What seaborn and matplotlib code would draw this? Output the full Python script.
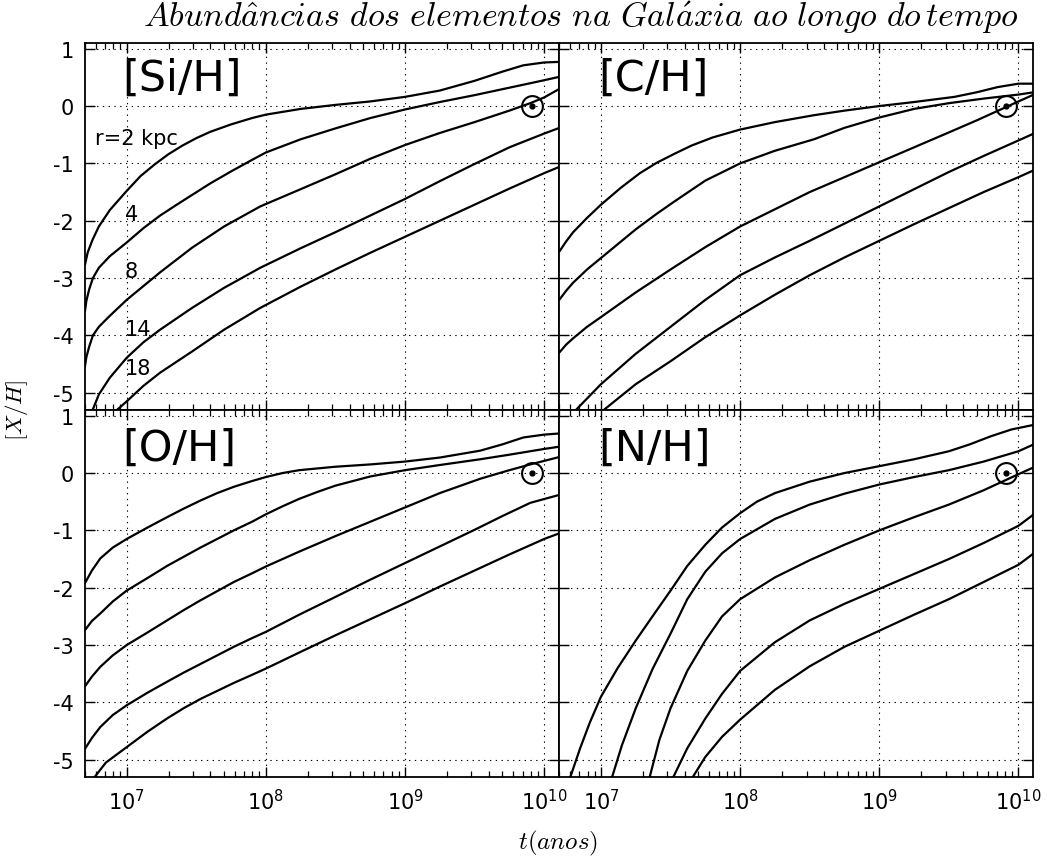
import numpy as np
import matplotlib
matplotlib.use("Agg")
import matplotlib.pyplot as plt
import seaborn as sns

# ---------------- data (log10 t [anos], [X/H]) ----------------
RADII = ["r=2 kpc", "4", "8", "14", "18"]
SUN_T = 8.2e9
SUN_XH = 0.0

# [Si/H]
si_r2_t = [6.70, 6.72, 6.755, 6.80, 6.88, 7.0, 7.1, 7.2, 7.3, 7.4, 7.5, 7.6, 7.75, 7.9, 8.0, 8.25, 8.5, 8.75, 9.0, 9.25, 9.5, 9.7, 9.85, 10.0, 10.11]
si_r2 = [-2.77, -2.55, -2.33, -2.1, -1.81, -1.48, -1.22, -1.02, -0.84, -0.69, -0.56, -0.45, -0.32, -0.21, -0.15, -0.05, 0.02, 0.08, 0.16, 0.27, 0.44, 0.6, 0.71, 0.76, 0.77]
si_r4_t = [6.70, 6.71, 6.73, 6.757, 6.8, 6.878, 7.0, 7.12, 7.24, 7.36, 7.47, 7.6, 7.75, 7.9, 8.0, 8.25, 8.5, 8.75, 9.0, 9.25, 9.5, 9.75, 10.0, 10.11]
si_r4 = [-3.58, -3.4, -3.2, -3.0, -2.82, -2.62, -2.38, -2.13, -1.91, -1.72, -1.55, -1.35, -1.14, -0.94, -0.81, -0.58, -0.39, -0.21, -0.06, 0.07, 0.19, 0.32, 0.45, 0.51]
si_r8_t = [6.70, 6.71, 6.73, 6.757, 6.8, 6.878, 7.0, 7.24, 7.47, 7.7, 7.96, 8.25, 8.5, 8.75, 9.0, 9.25, 9.5, 9.75, 9.9, 10.0, 10.11]
si_r8 = [-4.54, -4.38, -4.2, -4.0, -3.85, -3.66, -3.38, -2.9, -2.47, -2.1, -1.75, -1.45, -1.19, -0.92, -0.68, -0.47, -0.28, -0.08, 0.05, 0.15, 0.3]
si_r14_t = [6.755, 6.8, 6.878, 7.0, 7.12, 7.24, 7.47, 7.7, 7.96, 8.25, 8.5, 8.75, 9.0, 9.25, 9.5, 9.75, 10.0, 10.11]
si_r14 = [-5.3, -5.03, -4.74, -4.39, -4.12, -3.9, -3.52, -3.17, -2.82, -2.48, -2.2, -1.91, -1.62, -1.31, -1.01, -0.72, -0.48, -0.38]
si_r18_t = [6.93, 7.0, 7.12, 7.24, 7.47, 7.7, 7.96, 8.25, 8.5, 8.75, 9.0, 9.25, 9.5, 9.75, 10.0, 10.11]
si_r18 = [-5.3, -5.15, -4.88, -4.65, -4.28, -3.9, -3.52, -3.15, -2.85, -2.56, -2.28, -2.0, -1.72, -1.44, -1.17, -1.06]

# [C/H]
c_r2_t = [6.70, 6.75, 6.8, 6.9, 7.0, 7.14, 7.28, 7.4, 7.53, 7.65, 7.8, 8.0, 8.25, 8.53, 8.75, 9.0, 9.25, 9.54, 9.7, 9.85, 10.0, 10.11]
c_r2 = [-2.54, -2.36, -2.2, -1.95, -1.72, -1.43, -1.17, -0.99, -0.83, -0.69, -0.55, -0.41, -0.28, -0.16, -0.08, 0.0, 0.07, 0.16, 0.24, 0.33, 0.39, 0.39]
c_r4_t = [6.70, 6.75, 6.8, 6.9, 7.0, 7.25, 7.4, 7.53, 7.75, 8.0, 8.25, 8.53, 8.75, 9.0, 9.25, 9.5, 9.75, 10.0, 10.11]
c_r4 = [-3.38, -3.22, -3.08, -2.85, -2.65, -2.15, -1.88, -1.66, -1.3, -1.0, -0.78, -0.58, -0.38, -0.2, -0.05, 0.05, 0.13, 0.2, 0.24]
c_r8_t = [6.70, 6.75, 6.8, 6.9, 7.0, 7.25, 7.5, 7.75, 8.0, 8.25, 8.5, 8.75, 9.0, 9.25, 9.5, 9.7, 9.9, 10.0, 10.11]
c_r8 = [-4.3, -4.16, -4.05, -3.85, -3.68, -3.25, -2.85, -2.46, -2.1, -1.8, -1.5, -1.24, -0.98, -0.72, -0.46, -0.25, -0.03, 0.08, 0.2]
c_r14_t = [6.82, 6.9, 7.0, 7.25, 7.5, 7.75, 8.0, 8.25, 8.5, 8.75, 9.0, 9.25, 9.5, 9.75, 10.0, 10.11]
c_r14 = [-5.3, -5.1, -4.85, -4.32, -3.85, -3.38, -2.95, -2.64, -2.35, -2.05, -1.75, -1.45, -1.15, -0.87, -0.6, -0.48]
c_r18_t = [7.02, 7.25, 7.5, 7.75, 8.0, 8.25, 8.5, 8.75, 9.0, 9.25, 9.5, 9.75, 10.0, 10.11]
c_r18 = [-5.3, -4.85, -4.45, -4.03, -3.65, -3.29, -2.95, -2.64, -2.35, -2.06, -1.78, -1.5, -1.24, -1.12]

# [O/H]
o_r2_t = [6.70, 6.75, 6.81, 6.9, 7.0, 7.15, 7.29, 7.41, 7.53, 7.65, 7.77, 7.9, 8.0, 8.12, 8.24, 8.5, 8.75, 9.0, 9.25, 9.54, 9.7, 9.85, 10.0, 10.11]
o_r2 = [-1.92, -1.7, -1.49, -1.3, -1.15, -0.95, -0.77, -0.62, -0.48, -0.35, -0.24, -0.14, -0.07, 0.0, 0.05, 0.11, 0.15, 0.2, 0.27, 0.39, 0.5, 0.62, 0.67, 0.69]
o_r4_t = [6.70, 6.75, 6.81, 6.9, 7.0, 7.15, 7.29, 7.41, 7.53, 7.65, 7.77, 7.9, 8.0, 8.12, 8.24, 8.37, 8.5, 8.75, 9.0, 9.25, 9.54, 9.75, 10.0, 10.11]
o_r4 = [-2.74, -2.58, -2.45, -2.24, -2.05, -1.83, -1.62, -1.46, -1.3, -1.15, -1.0, -0.85, -0.72, -0.58, -0.45, -0.33, -0.22, -0.06, 0.05, 0.14, 0.24, 0.32, 0.42, 0.46]
o_r8_t = [6.70, 6.75, 6.81, 6.9, 7.0, 7.15, 7.29, 7.41, 7.53, 7.65, 7.77, 7.9, 8.0, 8.12, 8.24, 8.5, 8.75, 9.0, 9.25, 9.54, 9.75, 9.9, 10.11]
o_r8 = [-3.72, -3.55, -3.38, -3.18, -3.0, -2.78, -2.57, -2.39, -2.22, -2.06, -1.9, -1.75, -1.63, -1.5, -1.37, -1.1, -0.85, -0.6, -0.35, -0.1, 0.05, 0.15, 0.28]
o_r14_t = [6.70, 6.75, 6.81, 6.9, 7.0, 7.15, 7.29, 7.41, 7.53, 7.65, 7.77, 7.9, 8.0, 8.12, 8.24, 8.5, 8.75, 9.0, 9.25, 9.5, 9.7, 9.9, 10.11]
o_r14 = [-4.81, -4.62, -4.43, -4.22, -4.05, -3.83, -3.64, -3.48, -3.33, -3.18, -3.03, -2.88, -2.77, -2.62, -2.47, -2.16, -1.86, -1.57, -1.28, -0.99, -0.75, -0.52, -0.38]
o_r18_t = [6.77, 6.85, 7.0, 7.15, 7.29, 7.41, 7.53, 7.65, 7.77, 7.9, 8.0, 8.12, 8.24, 8.5, 8.75, 9.0, 9.25, 9.5, 9.75, 10.0, 10.11]
o_r18 = [-5.3, -5.05, -4.78, -4.51, -4.28, -4.1, -3.94, -3.8, -3.66, -3.52, -3.41, -3.27, -3.13, -2.83, -2.55, -2.27, -1.98, -1.7, -1.42, -1.15, -1.05]

# [N/H]
n_r2_t = [6.78, 6.85, 6.92, 7.0, 7.12, 7.25, 7.37, 7.5, 7.62, 7.75, 7.87, 8.0, 8.12, 8.25, 8.5, 8.75, 9.0, 9.25, 9.5, 9.65, 9.8, 9.95, 10.11]
n_r2 = [-5.3, -4.8, -4.35, -3.9, -3.4, -2.92, -2.5, -2.05, -1.62, -1.25, -0.95, -0.7, -0.5, -0.35, -0.15, 0.0, 0.12, 0.24, 0.38, 0.5, 0.64, 0.76, 0.84]
n_r4_t = [7.08, 7.15, 7.25, 7.37, 7.5, 7.62, 7.75, 7.87, 8.0, 8.25, 8.5, 8.75, 9.0, 9.25, 9.5, 9.75, 10.0, 10.11]
n_r4 = [-5.3, -4.75, -4.1, -3.42, -2.8, -2.2, -1.72, -1.4, -1.15, -0.8, -0.55, -0.36, -0.2, -0.07, 0.05, 0.2, 0.38, 0.5]
n_r8_t = [7.35, 7.42, 7.5, 7.62, 7.75, 7.87, 8.0, 8.25, 8.5, 8.75, 9.0, 9.25, 9.5, 9.75, 10.0, 10.11]
n_r8 = [-5.3, -4.65, -4.1, -3.45, -2.92, -2.5, -2.2, -1.82, -1.52, -1.25, -1.0, -0.77, -0.55, -0.3, -0.02, 0.1]
n_r14_t = [7.52, 7.62, 7.75, 7.87, 8.0, 8.25, 8.5, 8.75, 9.0, 9.25, 9.5, 9.75, 10.0, 10.11]
n_r14 = [-5.3, -4.8, -4.28, -3.85, -3.45, -2.95, -2.57, -2.28, -2.02, -1.76, -1.5, -1.22, -0.92, -0.72]
n_r18_t = [7.66, 7.75, 7.87, 8.0, 8.25, 8.5, 8.75, 9.0, 9.25, 9.5, 9.75, 10.0, 10.11]
n_r18 = [-5.3, -4.95, -4.6, -4.3, -3.78, -3.37, -3.03, -2.75, -2.47, -2.2, -1.9, -1.6, -1.4]

PANELS = [
    ("[Si/H]", [(si_r2_t, si_r2), (si_r4_t, si_r4), (si_r8_t, si_r8), (si_r14_t, si_r14), (si_r18_t, si_r18)]),
    ("[C/H]", [(c_r2_t, c_r2), (c_r4_t, c_r4), (c_r8_t, c_r8), (c_r14_t, c_r14), (c_r18_t, c_r18)]),
    ("[O/H]", [(o_r2_t, o_r2), (o_r4_t, o_r4), (o_r8_t, o_r8), (o_r14_t, o_r14), (o_r18_t, o_r18)]),
    ("[N/H]", [(n_r2_t, n_r2), (n_r4_t, n_r4), (n_r8_t, n_r8), (n_r14_t, n_r14), (n_r18_t, n_r18)]),
]

# ---------------- style ----------------
sns.set_style("ticks")
plt.rcParams.update({
    "font.family": ["DejaVu Sans"],
    "mathtext.fontset": "cm",
    "axes.unicode_minus": False,
    "axes.linewidth": 1.3,
    "axes.edgecolor": "black",
    "text.color": "black",
    "xtick.color": "black",
    "ytick.color": "black",
    "xtick.labelcolor": "black",
    "ytick.labelcolor": "black",
})

fig, axes = plt.subplots(2, 2, figsize=(10.47, 8.62), dpi=100, sharex=True, sharey=True)
fig.subplots_adjust(left=0.081, right=0.987, top=0.949, bottom=0.0975, wspace=0, hspace=0)

label_pos = [(0.078, 0.905), (0.082, 0.905), (0.078, 0.897), (0.082, 0.897)]

for ax, (name, curves), lp in zip(axes.flat, PANELS, label_pos):
    ax.set_xscale("log")
    for t, v in curves:
        sns.lineplot(x=10 ** np.asarray(t), y=np.asarray(v), ax=ax, color="black",
                     lw=1.6, estimator=None, sort=False)
    # Sun marker
    ax.plot([SUN_T], [SUN_XH], "o", ms=15, mfc="none", mec="black", mew=1.5, zorder=5)
    ax.plot([SUN_T], [SUN_XH], "o", ms=3.5, color="black", zorder=6)
    ax.set_xlim(5e6, 1.28e10)
    ax.set_ylim(-5.3, 1.1)
    ax.set_yticks([-5, -4, -3, -2, -1, 0, 1])
    ax.grid(True, which="major", ls=(0, (1.2, 4)), color="black", lw=0.8)
    ax.tick_params(which="both", direction="in", top=True, right=True, labelsize=15)
    ax.tick_params(which="major", length=7, width=1.0, pad=8)
    ax.tick_params(which="minor", length=4, width=0.9)
    ax.text(lp[0], lp[1], name, transform=ax.transAxes, fontsize=31, ha="left", va="center")
    ax.set_xlabel("")
    ax.set_ylabel("")

for ax in axes[:, 1]:
    ax.tick_params(labelleft=False)
for ax in axes[0, :]:
    ax.tick_params(labelbottom=False)

# radius labels in first panel
ax0 = axes[0, 0]
rad_pos = [(0.021, 0.74), (0.084, 0.535), (0.084, 0.379), (0.084, 0.22), (0.084, 0.113)]
for lab, (x, y) in zip(RADII, rad_pos):
    ax0.text(x, y, lab, transform=ax0.transAxes, fontsize=15, ha="left", va="center")

fig.text(0.555, 0.979, r"$Abund\hat{a}ncias\ dos\ elementos\ na\ Gal\acute{a}xia\ ao\ longo\ do\,tempo$",
         ha="center", va="center", fontsize=24.5)
fig.text(0.533, 0.022, r"$t(anos)$", ha="center", va="center", fontsize=18)
fig.text(0.016, 0.524, r"$[X/H]$", ha="center", va="center", rotation=90, fontsize=16.5)

fig.savefig("out.png", dpi=100)
